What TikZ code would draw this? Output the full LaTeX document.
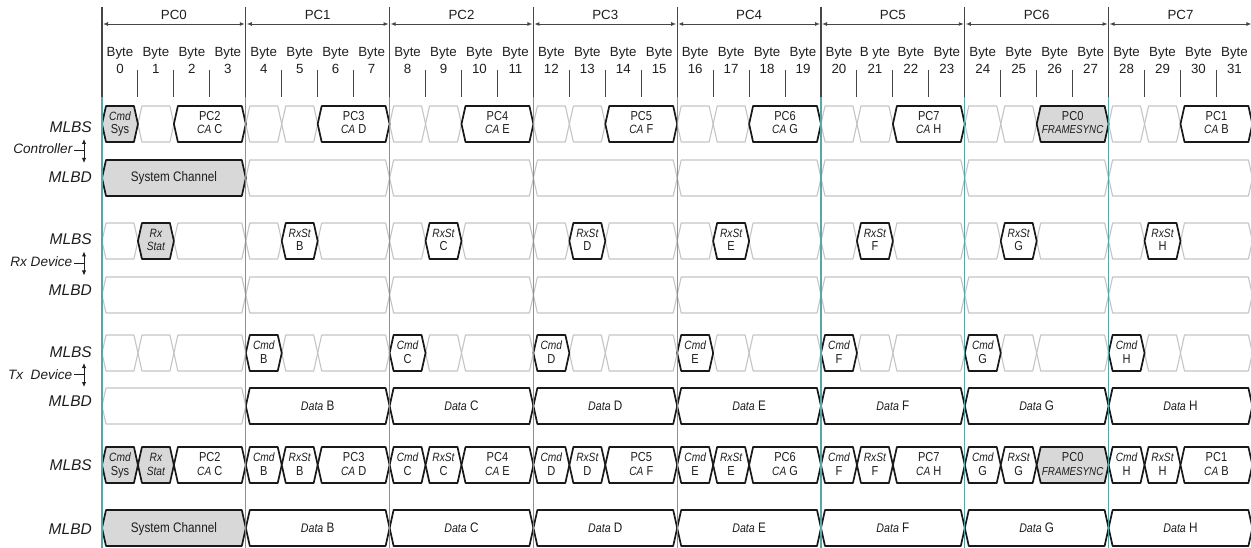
\documentclass[tikz,border=0pt]{standalone}
\usepackage{fontspec}
\setmainfont{Liberation Sans}
\usepackage{graphicx}
\usetikzlibrary{arrows.meta}
\definecolor{tealline}{RGB}{85,168,168}
\definecolor{lightline}{RGB}{196,196,196}
\definecolor{darkline}{RGB}{25,25,25}
\definecolor{grayfill}{RGB}{216,216,216}
\definecolor{topline}{RGB}{70,70,70}
\definecolor{txt}{RGB}{30,30,30}
\newcommand{\nar}[1]{\scalebox{0.85}[1]{#1}}
\newcommand{\ita}[1]{{\fontsize{12}{14}\selectfont\itshape #1}}
\newcommand{\fsync}{{\fontsize{11.5}{13}\selectfont\itshape FRAMESYNC}}
\newcommand{\hexshape}[4]{\draw[#4] (#1,#3) -- ({#1+4},{#3-18}) -- ({#2-4},{#3-18}) -- (#2,#3) -- ({#2-4},{#3+18}) -- ({#1+4},{#3+18}) -- cycle;}
\newcommand{\twotext}[6]{%
  \node[intext] (#6a) at ({(#1+#2)/2},{#3-3.5}) {\nar{#4}};
  \node[intext] (#6b) at ({(#1+#2)/2},{#3+10}) {\nar{#5}};}
\newcommand{\onetext}[5]{%
  \node[intext,font=\fontsize{13.8}{15}\selectfont] (#5) at ({(#1+#2)/2},{#3+4}) {\nar{#4}};}
\begin{document}
\begin{tikzpicture}[x=1pt,y=-1pt,
  lightslot/.style={draw=lightline,line width=1.1pt,line join=round},
  darkslot/.style={draw=darkline,line width=1.7pt,fill=white,line join=round},
  grayslot/.style={draw=darkline,line width=1.7pt,fill=grayfill,line join=round},
  intext/.style={anchor=base,inner sep=0pt,text=txt,font=\fontsize{13}{15}\selectfont},
  toptext/.style={anchor=base,inner sep=0pt,text=txt,font=\fontsize{13.3}{15}\selectfont},
  sidelab/.style={anchor=base east,inner sep=0pt,text=txt,font=\fontsize{15.5}{17}\selectfont\itshape},
  grplab/.style={anchor=base east,inner sep=0pt,text=txt,font=\fontsize{13.6}{15}\selectfont\itshape},
  toparrow/.style={draw=topline,line width=0.9pt,{Latex[length=5pt,width=4pt]}-{Latex[length=5pt,width=4pt]}},
  sidearrow/.style={draw=txt,line width=0.9pt,{Latex[length=5pt,width=4.5pt]}-{Latex[length=5pt,width=4.5pt]}},
  sideline/.style={draw=txt,line width=0.9pt},
  bytetick/.style={draw=topline,line width=1pt},
  pcline/.style={draw=topline,line width=1.2pt},
  pcteal/.style={draw=tealline,line width=1.2pt}]
\useasboundingbox (0,0) rectangle (1251,548);
\def\pcw{143.8}
\def\byw{35.95}
% header
\foreach \k in {0,...,7}{
  \pgfmathsetmacro\xa{102+\pcw*\k}
  \pgfmathsetmacro\xd{\xa+\pcw}
  \pgfmathsetmacro\xm{\xa+\pcw/2}
  \node[toptext] (pc\k) at (\xm,20) {PC\k};
  \coordinate (al\k) at ({\xa+1},24);
  \coordinate (ar\k) at ({\xd-1},24);
  \draw[toparrow] (al\k) -- (ar\k);
  \foreach \b in {1,2,3}{
    \coordinate (tt\k\b) at ({\xa+\b*\byw},70);
    \coordinate (tb\k\b) at ({\xa+\b*\byw},97);
    \draw[bytetick] (tt\k\b) -- (tb\k\b);
  }
}
\foreach \n in {0,...,31}{
  \pgfmathsetmacro\xm{102+\byw*(\n+0.5)}
  \node[toptext] (by\n) at (\xm,56.7) {\ifnum\n=21 B yte\else Byte\fi};
  \node[toptext] (bn\n) at (\xm,73.3) {\n};
}
% light slots
\foreach \k in {0,...,7}{
  \pgfmathsetmacro\xa{102+\pcw*\k}
  \pgfmathsetmacro\xb{\xa+\byw}
  \pgfmathsetmacro\xc{\xa+2*\byw}
  \pgfmathsetmacro\xd{\xa+\pcw}
  \foreach \yc in {124,241,353}{
    \hexshape{\xa}{\xb}{\yc}{lightslot}
    \hexshape{\xb}{\xc}{\yc}{lightslot}
    \hexshape{\xc}{\xd}{\yc}{lightslot}
  }
  \foreach \yc in {178,295,406}{\hexshape{\xa}{\xd}{\yc}{lightslot}}
}
% PC0 content
\pgfmathsetmacro\xa{102}
\pgfmathsetmacro\xb{\xa+\byw}
\pgfmathsetmacro\xc{\xa+2*\byw}
\pgfmathsetmacro\xd{\xa+\pcw}
\hexshape{\xa}{\xb}{124}{grayslot}
\twotext{\xa}{\xb}{124}{\ita{Cmd}}{Sys}{ras0}
\hexshape{\xc}{\xd}{124}{darkslot}
\twotext{\xc}{\xd}{124}{PC2}{\ita{CA} C}{ra0}
\hexshape{\xa}{\xd}{178}{grayslot}
\onetext{\xa}{\xd}{178}{System Channel}{rb0}
\hexshape{\xb}{\xc}{241}{grayslot}
\twotext{\xb}{\xc}{241}{\ita{Rx}}{\ita{Stat}}{rc0}
\hexshape{\xa}{\xb}{465}{grayslot}
\twotext{\xa}{\xb}{465}{\ita{Cmd}}{Sys}{rgs0}
\hexshape{\xb}{\xc}{465}{grayslot}
\twotext{\xb}{\xc}{465}{\ita{Rx}}{\ita{Stat}}{rgr0}
\hexshape{\xc}{\xd}{465}{darkslot}
\twotext{\xc}{\xd}{465}{PC2}{\ita{CA} C}{rg0}
\hexshape{\xa}{\xd}{528}{grayslot}
\onetext{\xa}{\xd}{528}{System Channel}{rh0}
% PC1..PC7 content
\foreach \k/\ltr/\N/\scnd/\sty in {1/B/3/{\ita{CA} D}/darkslot, 2/C/4/{\ita{CA} E}/darkslot, 3/D/5/{\ita{CA} F}/darkslot, 4/E/6/{\ita{CA} G}/darkslot, 5/F/7/{\ita{CA} H}/darkslot, 6/G/0/{\fsync}/grayslot, 7/H/1/{\ita{CA} B}/darkslot}{
  \pgfmathsetmacro\xa{102+\pcw*\k}
  \pgfmathsetmacro\xb{\xa+\byw}
  \pgfmathsetmacro\xc{\xa+2*\byw}
  \pgfmathsetmacro\xd{\xa+\pcw}
  \hexshape{\xc}{\xd}{124}{\sty}
  \twotext{\xc}{\xd}{124}{PC\N}{\scnd}{ra\k}
  \hexshape{\xb}{\xc}{241}{darkslot}
  \twotext{\xb}{\xc}{241}{\ita{RxSt}}{\ltr}{rc\k}
  \hexshape{\xa}{\xb}{353}{darkslot}
  \twotext{\xa}{\xb}{353}{\ita{Cmd}}{\ltr}{re\k}
  \hexshape{\xa}{\xd}{406}{darkslot}
  \onetext{\xa}{\xd}{406}{{\fontsize{12.5}{14}\selectfont\itshape Data} \ltr}{rf\k}
  \hexshape{\xa}{\xb}{465}{darkslot}
  \twotext{\xa}{\xb}{465}{\ita{Cmd}}{\ltr}{rgs\k}
  \hexshape{\xb}{\xc}{465}{darkslot}
  \twotext{\xb}{\xc}{465}{\ita{RxSt}}{\ltr}{rgr\k}
  \hexshape{\xc}{\xd}{465}{\sty}
  \twotext{\xc}{\xd}{465}{PC\N}{\scnd}{rg\k}
  \hexshape{\xa}{\xd}{528}{darkslot}
  \onetext{\xa}{\xd}{528}{{\fontsize{12.5}{14}\selectfont\itshape Data} \ltr}{rh\k}
}
% PC boundary lines
\foreach \k in {0,...,8}{
  \pgfmathsetmacro\xa{102+\pcw*\k}
  \coordinate (vt\k) at (\xa,7);
  \coordinate (vm\k) at (\xa,97);
  \coordinate (vb\k) at (\xa,548);
  \draw[pcline] (vt\k) -- (vm\k);
  \draw[pcteal] (vm\k) -- (vb\k);
}
% side labels
\node[sidelab] (l1) at (92,132.3) {MLBS};
\node[sidelab] (l2) at (92,182.7) {MLBD};
\node[sidelab] (l3) at (92,244.3) {MLBS};
\node[sidelab] (l4) at (92,295.3) {MLBD};
\node[sidelab] (l5) at (92,357.7) {MLBS};
\node[sidelab] (l6) at (92,406.7) {MLBD};
\node[sidelab] (l7) at (92,470.7) {MLBS};
\node[sidelab] (l8) at (92,534.3) {MLBD};
\node[grplab] (gctl) at (72.5,154) {Controller};
\node[grplab] (grx) at (72.5,267) {Rx Device};
\node[grplab] (gtx) at (72.5,379) {Tx\ \ Device};
\coordinate (c1) at (74,150); \coordinate (c2) at (84,150);
\coordinate (c3) at (84,139); \coordinate (c4) at (84,163);
\draw[sideline] (c1) -- (c2); \draw[sidearrow] (c3) -- (c4);
\coordinate (r1) at (74,263); \coordinate (r2) at (84,263);
\coordinate (r3) at (84,251.5); \coordinate (r4) at (84,275.5);
\draw[sideline] (r1) -- (r2); \draw[sidearrow] (r3) -- (r4);
\coordinate (x1) at (74,374.5); \coordinate (x2) at (84,374.5);
\coordinate (x3) at (84,363); \coordinate (x4) at (84,387);
\draw[sideline] (x1) -- (x2); \draw[sidearrow] (x3) -- (x4);
\end{tikzpicture}
\end{document}
